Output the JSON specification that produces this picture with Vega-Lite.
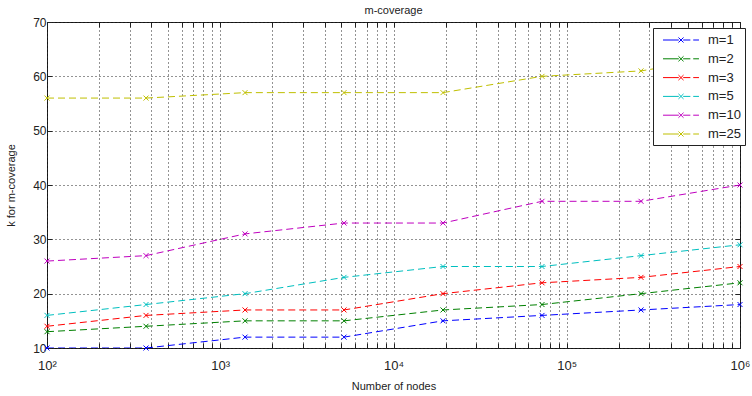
{
  "$schema": "https://vega.github.io/schema/vega-lite/v6.json",
  "width": 693,
  "height": 326,
  "autosize": {"type": "none"},
  "padding": {"left": 47, "top": 22, "right": 12, "bottom": 48},
  "background": "white",
  "title": {"text": "m-coverage", "fontSize": 11, "fontWeight": "normal", "font": "Liberation Sans", "offset": 0, "color": "#222"},
  "config": {
    "font": "Liberation Sans",
    "view": {"stroke": "#222", "strokeWidth": 1},
    "axis": {"domain": false, "labelFontSize": 12, "labelColor": "#222", "titleFontSize": 11, "titleFontWeight": "normal", "titleColor": "#222", "tickColor": "#222"}
  },
  "data": {
    "values": [
      {"nodes": 100, "k": 10, "m": "m=1"},
      {"nodes": 372.76, "k": 10, "m": "m=1"},
      {"nodes": 1389.5, "k": 12, "m": "m=1"},
      {"nodes": 5179.5, "k": 12, "m": "m=1"},
      {"nodes": 19307, "k": 15, "m": "m=1"},
      {"nodes": 71969, "k": 16, "m": "m=1"},
      {"nodes": 268270, "k": 17, "m": "m=1"},
      {"nodes": 1000000, "k": 18, "m": "m=1"},
      {"nodes": 100, "k": 13, "m": "m=2"},
      {"nodes": 372.76, "k": 14, "m": "m=2"},
      {"nodes": 1389.5, "k": 15, "m": "m=2"},
      {"nodes": 5179.5, "k": 15, "m": "m=2"},
      {"nodes": 19307, "k": 17, "m": "m=2"},
      {"nodes": 71969, "k": 18, "m": "m=2"},
      {"nodes": 268270, "k": 20, "m": "m=2"},
      {"nodes": 1000000, "k": 22, "m": "m=2"},
      {"nodes": 100, "k": 14, "m": "m=3"},
      {"nodes": 372.76, "k": 16, "m": "m=3"},
      {"nodes": 1389.5, "k": 17, "m": "m=3"},
      {"nodes": 5179.5, "k": 17, "m": "m=3"},
      {"nodes": 19307, "k": 20, "m": "m=3"},
      {"nodes": 71969, "k": 22, "m": "m=3"},
      {"nodes": 268270, "k": 23, "m": "m=3"},
      {"nodes": 1000000, "k": 25, "m": "m=3"},
      {"nodes": 100, "k": 16, "m": "m=5"},
      {"nodes": 372.76, "k": 18, "m": "m=5"},
      {"nodes": 1389.5, "k": 20, "m": "m=5"},
      {"nodes": 5179.5, "k": 23, "m": "m=5"},
      {"nodes": 19307, "k": 25, "m": "m=5"},
      {"nodes": 71969, "k": 25, "m": "m=5"},
      {"nodes": 268270, "k": 27, "m": "m=5"},
      {"nodes": 1000000, "k": 29, "m": "m=5"},
      {"nodes": 100, "k": 26, "m": "m=10"},
      {"nodes": 372.76, "k": 27, "m": "m=10"},
      {"nodes": 1389.5, "k": 31, "m": "m=10"},
      {"nodes": 5179.5, "k": 33, "m": "m=10"},
      {"nodes": 19307, "k": 33, "m": "m=10"},
      {"nodes": 71969, "k": 37, "m": "m=10"},
      {"nodes": 268270, "k": 37, "m": "m=10"},
      {"nodes": 1000000, "k": 40, "m": "m=10"},
      {"nodes": 100, "k": 56, "m": "m=25"},
      {"nodes": 372.76, "k": 56, "m": "m=25"},
      {"nodes": 1389.5, "k": 57, "m": "m=25"},
      {"nodes": 5179.5, "k": 57, "m": "m=25"},
      {"nodes": 19307, "k": 57, "m": "m=25"},
      {"nodes": 71969, "k": 60, "m": "m=25"},
      {"nodes": 268270, "k": 61, "m": "m=25"},
      {"nodes": 1000000, "k": 64, "m": "m=25"}
    ]
  },
  "encoding": {
    "color": {
      "field": "m",
      "type": "nominal",
      "scale": {
        "domain": ["m=1", "m=2", "m=3", "m=5", "m=10", "m=25"],
        "range": ["#0000ff", "#008000", "#ff0000", "#00bfbf", "#bf00bf", "#bfbf00"]
      },
      "legend": {
        "title": null,
        "orient": "none",
        "legendX": 606,
        "legendY": 6,
        "fillColor": "white",
        "strokeColor": "#222",
        "padding": 4,
        "labelFontSize": 13,
        "labelColor": "#222",
        "rowPadding": 3.8,
        "symbolType": "M-2.5,0H-0.3M-0.35,-0.35L0.35,0.35M-0.35,0.35L0.35,-0.35M0.3,0H1.3M1.7,0H2.5",
        "symbolSize": 207,
        "symbolStrokeWidth": 1,
        "symbolOffset": 16,
        "labelOffset": 19,
        "encode": {
          "symbols": {
            "update": {
              "stroke": {"scale": "color", "field": "value"},
              "fill": {"value": "transparent"}
            }
          }
        }
      }
    }
  },
  "layer": [
    {
      "mark": {"type": "line", "strokeDash": [7, 4], "strokeWidth": 1, "clip": true},
      "encoding": {
        "x": {
          "field": "nodes",
          "type": "quantitative",
          "scale": {"type": "log", "domain": [100, 1000000], "nice": false},
          "axis": {
            "title": "Number of nodes",
            "titleY": 32,
            "values": [100, 200, 300, 400, 500, 600, 700, 800, 900, 1000, 2000, 3000, 4000, 5000, 6000, 7000, 8000, 9000, 10000, 20000, 30000, 40000, 50000, 60000, 70000, 80000, 90000, 100000, 200000, 300000, 400000, 500000, 600000, 700000, 800000, 900000, 1000000],
            "labelExpr": "abs(log(datum.value)/LN10 - round(log(datum.value)/LN10)) < 1e-6 ? '10' + ['⁰','¹','²','³','⁴','⁵','⁶'][round(log(datum.value)/LN10)] : ''",
            "labelOverlap": false,
            "labelFlush": false,
            "labelPadding": 16,
            "grid": true,
            "gridDash": [1, 3],
            "gridColor": "#000",
            "gridOpacity": 0.85,
            "tickSize": -5,
            "labelFontSize": 13
          }
        },
        "y": {
          "field": "k",
          "type": "quantitative",
          "scale": {"domain": [10, 70], "nice": false},
          "axis": {
            "title": "k for m-coverage",
            "titleX": -31,
            "values": [10, 20, 30, 40, 50, 60, 70],
            "grid": true,
            "gridDash": [1, 3],
            "gridColor": "#000",
            "gridOpacity": 0.85,
            "tickSize": -5,
            "labelPadding": 6
          }
        }
      }
    },
    {
      "mark": {"type": "point", "shape": "M-1,-1L1,1M-1,1L1,-1", "size": 25, "filled": false, "strokeWidth": 1, "opacity": 1},
      "encoding": {
        "x": {
          "field": "nodes",
          "type": "quantitative",
          "axis": {"orient": "top", "labels": false, "title": null, "grid": false, "tickSize": -5, "values": [100, 200, 300, 400, 500, 600, 700, 800, 900, 1000, 2000, 3000, 4000, 5000, 6000, 7000, 8000, 9000, 10000, 20000, 30000, 40000, 50000, 60000, 70000, 80000, 90000, 100000, 200000, 300000, 400000, 500000, 600000, 700000, 800000, 900000, 1000000]}
        },
        "y": {
          "field": "k",
          "type": "quantitative",
          "axis": {"orient": "right", "labels": false, "title": null, "grid": false, "tickSize": -5, "values": [10, 20, 30, 40, 50, 60, 70]}
        }
      }
    }
  ],
  "resolve": {"axis": {"x": "independent", "y": "independent"}}
}
